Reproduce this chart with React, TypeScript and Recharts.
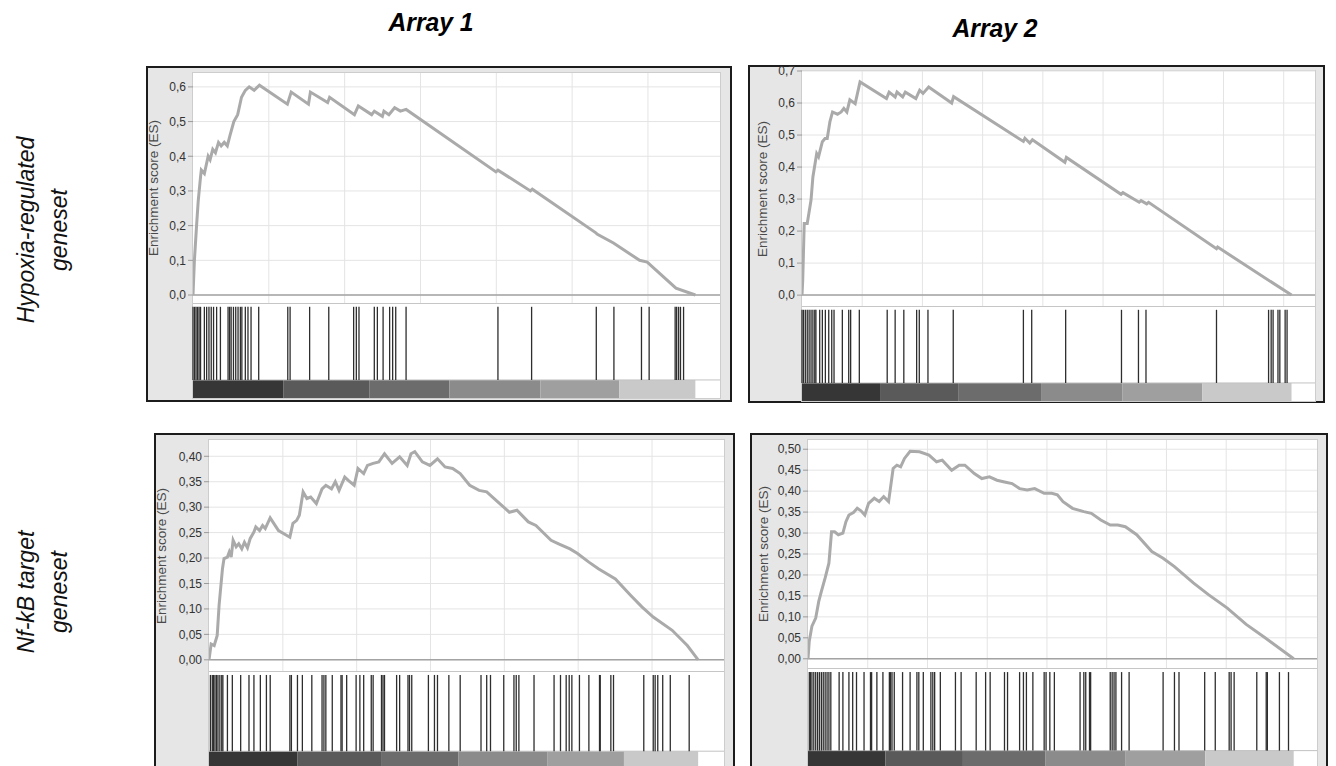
import { LineChart, Line, XAxis, YAxis, CartesianGrid, ReferenceLine, ReferenceArea } from "recharts"

// ranked gene lists: array 1 and array 2 have different lengths
const ARRAY1_TICKS = [2000, 4000, 6000, 8000, 10000, 12000]
const ARRAY2_TICKS = [1000, 2000, 3000, 4000, 5000, 6000, 7000, 8000]

// rank metric bands drawn under the hit barcode (rank boundaries)
const ARRAY1_BANDS = [0, 2390, 4660, 6760, 9160, 11240, 13250]
const ARRAY2_BANDS = [0, 1296, 2593, 3970, 5318, 6650, 8130]
const BAND_SHADES = ["#363636", "#5a5a5a", "#6c6c6c", "#8b8b8b", "#9f9f9f", "#c9c9c9"]

// running enrichment score, [rank, ES]
const HYPOXIA_A1: [number, number][] = [
 [0, 0], [37, 0.1], [97, 0.205], [137, 0.27], [198, 0.34], [219, 0.36], [300, 0.35], [400, 0.4],
 [451, 0.39], [521, 0.42], [592, 0.41], [673, 0.44], [743, 0.43], [824, 0.44], [905, 0.43],
 [976, 0.46], [1077, 0.5], [1178, 0.52], [1279, 0.57], [1380, 0.59], [1481, 0.6], [1612, 0.59],
 [1753, 0.605], [2490, 0.55], [2590, 0.585], [3046, 0.55], [3097, 0.585], [3552, 0.555],
 [3603, 0.57], [4258, 0.52], [4360, 0.545], [4712, 0.52], [4783, 0.53], [4995, 0.515],
 [5036, 0.53], [5167, 0.52], [5318, 0.54], [5470, 0.53], [5621, 0.535], [7992, 0.355],
 [8043, 0.36], [8900, 0.3], [8950, 0.305], [10617, 0.18], [10667, 0.175], [11090, 0.15],
 [11779, 0.1], [11980, 0.095], [12738, 0.02], [13250, 0],
]
const HYPOXIA_A2: [number, number][] = [
 [0, 0], [12, 0.047], [37, 0.224], [87, 0.224], [150, 0.297], [181, 0.369], [244, 0.442],
 [275, 0.432], [338, 0.479], [382, 0.489], [419, 0.489], [463, 0.541], [507, 0.572], [589, 0.565],
 [651, 0.572], [695, 0.583], [745, 0.572], [795, 0.61], [883, 0.598], [964, 0.666], [1403, 0.614],
 [1447, 0.634], [1547, 0.619], [1578, 0.634], [1672, 0.619], [1716, 0.634], [1891, 0.614],
 [1954, 0.64], [2010, 0.63], [2104, 0.65], [2486, 0.6], [2518, 0.62], [3677, 0.48], [3702, 0.49],
 [3783, 0.475], [3827, 0.485], [4366, 0.415], [4391, 0.43], [5299, 0.315], [5330, 0.32],
 [5600, 0.29], [5631, 0.295], [5725, 0.285], [5756, 0.29], [6884, 0.145], [6903, 0.15], [8130, 0],
]
const NFKB_A1: [number, number][] = [
 [0, 0], [58, 0.031], [140, 0.028], [222, 0.048], [273, 0.107], [365, 0.179], [407, 0.199],
 [499, 0.202], [550, 0.212], [601, 0.202], [653, 0.235], [735, 0.222], [806, 0.228], [888, 0.218],
 [960, 0.231], [1042, 0.22], [1114, 0.238], [1216, 0.251], [1268, 0.261], [1370, 0.254],
 [1452, 0.264], [1524, 0.258], [1657, 0.279], [1883, 0.254], [2190, 0.241], [2273, 0.268],
 [2375, 0.274], [2447, 0.284], [2549, 0.33], [2652, 0.317], [2754, 0.32], [2908, 0.307],
 [3062, 0.336], [3165, 0.343], [3318, 0.336], [3421, 0.35], [3523, 0.333], [3677, 0.359],
 [3780, 0.352], [3933, 0.343], [4036, 0.376], [4190, 0.366], [4292, 0.382], [4446, 0.386],
 [4600, 0.389], [4754, 0.405], [4959, 0.386], [5164, 0.399], [5369, 0.382], [5471, 0.405],
 [5574, 0.409], [5779, 0.389], [5984, 0.382], [6189, 0.395], [6394, 0.379], [6599, 0.376],
 [6804, 0.366], [7061, 0.343], [7317, 0.333], [7522, 0.33], [7830, 0.31], [8137, 0.29],
 [8342, 0.294], [8650, 0.271], [8855, 0.264], [9265, 0.235], [9470, 0.228], [9778, 0.218],
 [9983, 0.209], [10290, 0.192], [10547, 0.179], [11008, 0.159], [11418, 0.127], [11726, 0.104],
 [12033, 0.084], [12546, 0.058], [12956, 0.028], [13250, 0],
]
const NFKB_A2: [number, number][] = [
 [0, 0], [21, 0.042], [66, 0.078], [129, 0.097], [180, 0.137], [224, 0.161], [287, 0.193],
 [350, 0.228], [394, 0.303], [445, 0.303], [508, 0.296], [584, 0.3], [635, 0.327], [685, 0.343],
 [761, 0.349], [824, 0.359], [887, 0.353], [951, 0.343], [1014, 0.371], [1109, 0.383],
 [1191, 0.375], [1267, 0.387], [1349, 0.375], [1425, 0.454], [1488, 0.462], [1551, 0.458],
 [1615, 0.478], [1709, 0.495], [1867, 0.494], [2025, 0.486], [2152, 0.47], [2247, 0.474],
 [2405, 0.45], [2531, 0.462], [2626, 0.462], [2784, 0.442], [2910, 0.43], [3037, 0.434],
 [3163, 0.426], [3289, 0.422], [3416, 0.418], [3542, 0.406], [3669, 0.403], [3795, 0.406],
 [3953, 0.395], [4080, 0.395], [4174, 0.391], [4269, 0.375], [4427, 0.359], [4617, 0.351],
 [4743, 0.347], [4901, 0.331], [5059, 0.319], [5186, 0.319], [5312, 0.315], [5502, 0.296],
 [5755, 0.256], [5944, 0.24], [6134, 0.22], [6450, 0.181], [6703, 0.153], [7019, 0.121],
 [7335, 0.082], [7651, 0.05], [8130, 0],
]

// ranks of the geneset members (barcode)
const HYPOXIA_A1_HITS = [
 0, 40, 80, 120, 160, 199, 300, 360, 421, 481, 542, 623, 723, 925, 966, 1006, 1067, 1127, 1188,
 1249, 1289, 1380, 1450, 1531, 1733, 2500, 2561, 3076, 3581, 4237, 4308, 4378, 4782, 4863, 5014,
 5186, 5266, 5347, 5620, 8043, 8931, 10637, 11102, 11829, 12031, 12717, 12757, 12808, 12858, 12939,
]
const HYPOXIA_A2_HITS = [
 0, 24, 55, 87, 118, 150, 181, 212, 231, 294, 338, 388, 444, 494, 532, 670, 776, 808, 952, 1415,
 1547, 1691, 1904, 1948, 2092, 2512, 3677, 3815, 4379, 5306, 5588, 5713, 6884, 7749, 7792, 7824,
 7905, 7936, 8024, 8056,
]
const NFKB_A1_HITS = [
 38, 89, 120, 161, 202, 243, 294, 345, 376, 499, 632, 858, 1083, 1217, 1391, 1555, 1658, 2191,
 2232, 2396, 2529, 2785, 3062, 3113, 3165, 3339, 3575, 3606, 3729, 3985, 4087, 4190, 4395, 4446,
 4672, 4713, 4754, 5082, 5164, 5390, 5431, 5492, 5943, 6107, 6189, 6497, 6804, 7368, 7522, 7625,
 7984, 8260, 8322, 8394, 8804, 9347, 9521, 9675, 9757, 9829, 10034, 10290, 10578, 10598, 10885,
 10957, 11777, 12033, 12085, 12156, 12290, 12495, 13007,
]
const NFKB_A2_HITS = [
 22, 40, 66, 97, 129, 161, 192, 224, 255, 287, 319, 350, 382, 521, 584, 685, 748, 812, 938, 1046,
 1065, 1153, 1254, 1362, 1381, 1406, 1444, 1583, 1709, 1823, 1855, 1930, 2057, 2089, 2120, 2215,
 2468, 2563, 2815, 2973, 3049, 3289, 3340, 3542, 3606, 3656, 3764, 3953, 3985, 4048, 4124, 4554,
 4617, 4649, 4712, 4731, 5059, 5091, 5123, 5154, 5249, 5375, 5944, 6134, 6210, 6640, 6817, 7050,
 7082, 7133, 7512, 7670, 7689, 7891, 8043,
]

const HYPOXIA_TICKS = [0, 0.1, 0.2, 0.3, 0.4, 0.5, 0.6]
const HYPOXIA_A2_YTICKS = [0, 0.1, 0.2, 0.3, 0.4, 0.5, 0.6, 0.7]
const NFKB_A1_YTICKS = [0, 0.05, 0.1, 0.15, 0.2, 0.25, 0.3, 0.35, 0.4]
const NFKB_A2_YTICKS = [0, 0.05, 0.1, 0.15, 0.2, 0.25, 0.3, 0.35, 0.4, 0.45, 0.5]

const FONT = '"Liberation Sans", Arial, sans-serif'
const GRAD_TOP = 0.19
const HIT_TOP = 0.96
const PAD_TOP = 8

type Box = { left: number; top: number; right: number; bottom: number }
type Plot = { left: number; right: number; top: number; esBottom: number; bottom: number }

interface PanelProps {
 box: Box
 plot: Plot
 es: [number, number][]
 hits: number[]
 bands: number[]
 xMax: number
 xTicks: number[]
 yMin: number
 yMax: number
 yTicks: number[]
 digits: number
 titleX: number
}

function GseaPanel({ box, plot, es, hits, bands, xMax, xTicks, yMin, yMax, yTicks, digits, titleX }: PanelProps) {
 const axisW = plot.left - box.left
 const chartW = plot.right - box.left
 const rows = es.map(([rank, v]) => ({ rank, es: v }))
 const hitRows = hits.map((rank) => ({ rank, top: HIT_TOP }))
 const fmt = (v: number) => v.toFixed(digits).replace(".", ",")

 return (
 <>
 <div
 style={{
 position: "absolute",
 left: box.left,
 top: box.top,
 width: box.right - box.left,
 height: box.bottom - box.top,
 border: "2px solid #1c1c1c",
 background: "#e6e6e6",
 boxSizing: "border-box",
 }}
 />
 <div
 style={{
 position: "absolute",
 left: plot.left,
 top: plot.top,
 width: plot.right - plot.left,
 height: plot.bottom - plot.top,
 background: "#fff",
 outline: "1px solid #cdcdcd",
 }}
 />

 {/* ES curve */}
 <div style={{ position: "absolute", left: box.left, top: plot.top - PAD_TOP }}>
 <LineChart
 width={chartW}
 height={plot.esBottom - plot.top + PAD_TOP}
 data={rows}
 margin={{ top: PAD_TOP, right: 0, bottom: 0, left: 0 }}
 >
 <CartesianGrid stroke="#e4e4e4" verticalValues={xTicks} horizontalValues={yTicks} />
 <XAxis type="number" dataKey="rank" domain={[0, xMax]} hide allowDataOverflow />
 <YAxis
 type="number"
 domain={[yMin, yMax]}
 ticks={yTicks}
 interval={0}
 width={axisW}
 allowDataOverflow
 tickFormatter={fmt}
 tick={{ fontSize: 12, fill: "#333", fontFamily: FONT }}
 axisLine={false}
 tickLine={{ stroke: "#9a9a9a" }}
 tickSize={5}
 />
 <ReferenceLine y={0} stroke="#a3a3a3" strokeWidth={1.5} />
 <Line type="linear" dataKey="es" stroke="#aaaaaa" strokeWidth={3} dot={false} isAnimationActive={false} />
 </LineChart>
 </div>

 {/* hit barcode + ranked list bands */}
 <div style={{ position: "absolute", left: box.left, top: plot.esBottom }}>
 <LineChart
 width={chartW}
 height={plot.bottom - plot.esBottom}
 data={hitRows}
 margin={{ top: 0, right: 0, bottom: 0, left: axisW }}
 >
 <XAxis type="number" dataKey="rank" domain={[0, xMax]} hide allowDataOverflow />
 <YAxis type="number" domain={[0, 1]} hide allowDataOverflow />
 <Line dataKey="top" stroke="none" dot={false} isAnimationActive={false} />
 {bands.slice(0, -1).map((b, i) => (
 <ReferenceArea
 key={b}
 x1={b}
 x2={bands[i + 1]}
 y1={0}
 y2={GRAD_TOP}
 fill={BAND_SHADES[i]}
 fillOpacity={1}
 stroke="none"
 />
 ))}
 <ReferenceLine y={GRAD_TOP} stroke="#c2c2c2" />
 {hits.map((h) => (
 <ReferenceLine
 key={h}
 segment={[{ x: h, y: GRAD_TOP }, { x: h, y: HIT_TOP }]}
 stroke="#2e2e2e"
 strokeWidth={1.3}
 />
 ))}
 <ReferenceLine y={1} stroke="#b3b3b3" strokeWidth={1.5} />
 </LineChart>
 </div>

 <div
 style={{
 position: "absolute",
 left: box.left + titleX,
 top: (plot.top + plot.esBottom) / 2,
 transform: "translate(-50%, -50%) rotate(-90deg)",
 whiteSpace: "nowrap",
 fontFamily: FONT,
 fontSize: 13.5,
 color: "#4a4a4a",
 }}
 >
 Enrichment score (ES)
 </div>
 </>
 )
}

function RowLabel({ top, lines }: { top: number; lines: string[] }) {
 return (
 <div
 style={{
 position: "absolute",
 left: 43,
 top,
 transform: "translate(-50%, -50%) rotate(-90deg)",
 whiteSpace: "nowrap",
 textAlign: "center",
 fontFamily: FONT,
 fontStyle: "italic",
 fontSize: 23,
 lineHeight: "33px",
 color: "#111",
 }}
 >
 {lines.map((l) => (
 <div key={l}>{l}</div>
 ))}
 </div>
 )
}

const titleStyle = {
 position: "absolute" as const,
 fontFamily: FONT,
 fontWeight: 700,
 fontStyle: "italic",
 fontSize: 26,
 whiteSpace: "nowrap" as const,
}

export default function App() {
 return (
 <div style={{ position: "absolute", left: 0, top: 0, width: 1336, height: 766, overflow: "hidden", background: "#fff" }}>
 <div style={{ ...titleStyle, left: 431, top: 22, transform: "translate(-50%, -50%) scaleX(0.95)" }}>Array 1</div>
 <div style={{ ...titleStyle, left: 995, top: 28, transform: "translate(-50%, -50%) scaleX(0.95)" }}>Array 2</div>
 <RowLabel top={230} lines={["Hypoxia-regulated", "geneset"]} />
 <RowLabel top={592} lines={["Nf-kB target", "geneset"]} />

 <GseaPanel
 box={{ left: 146, top: 66, right: 732, bottom: 402 }}
 plot={{ left: 193, right: 720, top: 73, esBottom: 303, bottom: 398 }}
 es={HYPOXIA_A1}
 hits={HYPOXIA_A1_HITS}
 bands={ARRAY1_BANDS}
 xMax={13900}
 xTicks={ARRAY1_TICKS}
 yMin={-0.023}
 yMax={0.64}
 yTicks={HYPOXIA_TICKS}
 digits={1}
 titleX={7}
 />
 <GseaPanel
 box={{ left: 748, top: 65, right: 1325, bottom: 403 }}
 plot={{ left: 802, right: 1315, top: 71, esBottom: 306, bottom: 401 }}
 es={HYPOXIA_A2}
 hits={HYPOXIA_A2_HITS}
 bands={ARRAY2_BANDS}
 xMax={8520}
 xTicks={ARRAY2_TICKS}
 yMin={-0.034}
 yMax={0.7}
 yTicks={HYPOXIA_A2_YTICKS}
 digits={1}
 titleX={14}
 />
 <GseaPanel
 box={{ left: 154, top: 433, right: 735, bottom: 790 }}
 plot={{ left: 209, right: 724, top: 440, esBottom: 671, bottom: 770 }}
 es={NFKB_A1}
 hits={NFKB_A1_HITS}
 bands={ARRAY1_BANDS}
 xMax={13950}
 xTicks={ARRAY1_TICKS}
 yMin={-0.022}
 yMax={0.432}
 yTicks={NFKB_A1_YTICKS}
 digits={2}
 titleX={7}
 />
 <GseaPanel
 box={{ left: 750, top: 433, right: 1328, bottom: 790 }}
 plot={{ left: 808, right: 1317, top: 440, esBottom: 668, bottom: 770 }}
 es={NFKB_A2}
 hits={NFKB_A2_HITS}
 bands={ARRAY2_BANDS}
 xMax={8520}
 xTicks={ARRAY2_TICKS}
 yMin={-0.022}
 yMax={0.522}
 yTicks={NFKB_A2_YTICKS}
 digits={2}
 titleX={13}
 />
 </div>
 )
}
